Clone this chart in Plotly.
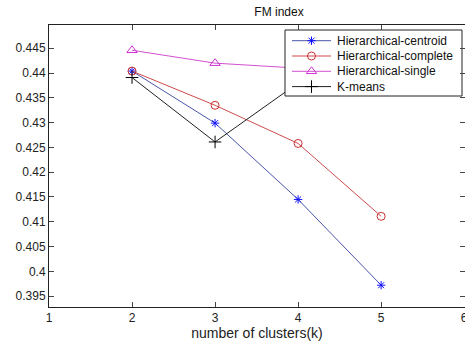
import plotly.graph_objects as go

# Number of clusters and FM index per clustering method
k_values = [2, 3, 4, 5]
hier_centroid = [0.4404, 0.4299, 0.4145, 0.3972]
hier_complete = [0.4404, 0.4335, 0.4258, 0.4111]
hier_single = [0.4446, 0.4420, 0.4410, 0.4405]
kmeans = [0.4391, 0.4261, 0.4380, 0.4375]

x_ticks = [1, 2, 3, 4, 5, 6]
y_ticks = [0.395, 0.4, 0.405, 0.41, 0.415, 0.42, 0.425, 0.43, 0.435, 0.44, 0.445]
y_tick_text = ["0.395", "0.4", "0.405", "0.41", "0.415", "0.42", "0.425", "0.43", "0.435", "0.44", "0.445"]

series = [
    ("Hierarchical-centroid", hier_centroid, "#4a55a8", "#1010ff", "asterisk-open", 7),
    ("Hierarchical-complete", hier_complete, "#cc4c4c", "#cc3030", "circle-open", 8),
    ("Hierarchical-single", hier_single, "#d050d0", "#d030d0", "triangle-up-open", 9),
    ("K-means", kmeans, "#202020", "#000000", "cross-thin-open", 9),
]

W, H = 465, 345
M_L, M_R, M_T, M_B = 49, 0, 25, 38

fig = go.Figure()
for name, vals, lcol, mcol, sym, size in series:
    fig.add_trace(go.Scatter(
        x=k_values, y=vals, name=name, mode="lines+markers", showlegend=False,
        line=dict(color=lcol, width=1),
        marker=dict(symbol=sym, size=size, color=mcol, line=dict(color=mcol, width=1)),
    ))

# Compact boxed legend drawn on an overlay axis measured in pixels
# (x2 runs left->right across the plot area, y2 runs top->bottom).
box_x0, box_x1, box_y0, box_y1 = 285, 462, 30, 96
row_y0, row_step = 40.7, 15.3
sample_x0, sample_x1, text_x = 292, 331, 335

fig.add_trace(go.Scatter(
    x=[box_x0, box_x1, box_x1, box_x0, box_x0],
    y=[box_y0, box_y0, box_y1, box_y1, box_y0],
    xaxis="x2", yaxis="y2", mode="lines", fill="toself",
    fillcolor="white", line=dict(color="#222222", width=1),
    showlegend=False, hoverinfo="skip",
))
annotations = []
for i, (name, vals, lcol, mcol, sym, size) in enumerate(series):
    ry = row_y0 + i * row_step
    fig.add_trace(go.Scatter(
        x=[sample_x0, sample_x1], y=[ry, ry], xaxis="x2", yaxis="y2",
        mode="lines", line=dict(color=lcol, width=1),
        showlegend=False, hoverinfo="skip",
    ))
    fig.add_trace(go.Scatter(
        x=[(sample_x0 + sample_x1) / 2], y=[ry], xaxis="x2", yaxis="y2",
        mode="markers",
        marker=dict(symbol=sym, size=size, color=mcol, line=dict(color=mcol, width=1)),
        showlegend=False, hoverinfo="skip",
    ))
    annotations.append(dict(
        x=text_x, y=ry, xref="x2", yref="y2", text=name, showarrow=False,
        xanchor="left", yanchor="middle",
        font=dict(family="Liberation Sans, Arial, sans-serif", size=12, color="#111111"),
    ))

font = dict(family="Liberation Sans, Arial, sans-serif", size=12, color="#222222")

fig.update_layout(
    width=W, height=H,
    margin=dict(l=M_L, r=M_R, t=M_T, b=M_B),
    paper_bgcolor="white", plot_bgcolor="white",
    font=font,
    showlegend=False,
    title=dict(text="FM index", x=0.553, xref="paper", xanchor="center",
               y=1 - 12 / H, yanchor="middle", font=dict(size=12, color="#111111")),
    annotations=annotations,
    xaxis=dict(
        range=[1, 6.01], tickvals=x_ticks, ticks="inside", ticklen=5,
        showline=True, linecolor="#222222", linewidth=1, mirror="allticks",
        showgrid=False, zeroline=False, ticklabeloverflow="allow",
        automargin=False,
        title=dict(text="number of clusters(k)", standoff=2),
    ),
    yaxis=dict(
        range=[0.3928, 0.4497], tickvals=y_ticks, ticktext=y_tick_text,
        ticks="inside", ticklen=5,
        showline=True, linecolor="#222222", linewidth=1, mirror="allticks",
        showgrid=False, zeroline=False, automargin=False,
    ),
    xaxis2=dict(overlaying="x", range=[M_L, W - M_R], visible=False, fixedrange=True),
    yaxis2=dict(overlaying="y", range=[H - M_B, M_T], visible=False, fixedrange=True),
)

fig.write_html("out.html")
